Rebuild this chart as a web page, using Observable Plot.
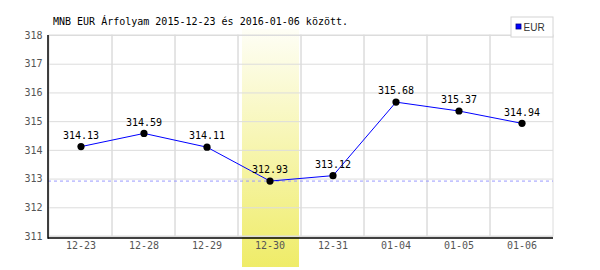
<!DOCTYPE html>
<html>
<head>
<meta charset="utf-8">
<script src="https://cdn.jsdelivr.net/npm/d3@7"></script>
<script src="https://cdn.jsdelivr.net/npm/@observablehq/plot@0.6"></script>
<style>
  html, body { margin: 0; padding: 0; background: #fff; }
  #chart { position: relative; width: 600px; height: 270px; }
</style>
</head>
<body>
<div id="chart"></div>
<script>
const title = "MNB EUR Árfolyam 2015-12-23 és 2016-01-06 között.";
const seriesName = "EUR";
const dates = ["12-23", "12-28", "12-29", "12-30", "12-31", "01-04", "01-05", "01-06"];
const rates = [314.13, 314.59, 314.11, 312.93, 313.12, 315.68, 315.37, 314.94];
const yTicks = [311, 312, 313, 314, 315, 316, 317, 318];
const highlightDate = "12-30";

const data = dates.map((d, i) => ({date: d, rate: rates[i], label: rates[i].toFixed(2)}));
const minRate = d3.min(rates);
const mono = "'DejaVu Sans Mono', monospace";

function decor() {
  const g = d3.create("svg:g");
  const defs = g.append("defs");
  const grad = defs.append("linearGradient").attr("id", "hl").attr("x1", 0).attr("y1", 0).attr("x2", 0).attr("y2", 1);
  grad.append("stop").attr("offset", "0%").attr("stop-color", "#fefef6");
  grad.append("stop").attr("offset", "100%").attr("stop-color", "#efec68");
  return g.node();
}

function frameLines(index, scales, values, dimensions) {
  const {marginLeft, marginRight, width} = dimensions;
  const yb = scales.y(yTicks[0]) + 2;
  const yt = scales.y(yTicks[yTicks.length - 1]);
  const wrap = d3.create("svg:g").attr("text-anchor", "start");
  const g = wrap.append("g").attr("stroke", "#000").attr("stroke-width", 1.5);
  g.append("line").attr("x1", marginLeft).attr("x2", marginLeft).attr("y1", yt).attr("y2", yb + 0.75);
  g.append("line").attr("x1", marginLeft).attr("x2", width - marginRight).attr("y1", yb).attr("y2", yb);
  const t = wrap.append("g").attr("text-anchor", "start");
  t.append("text").attr("x", marginLeft + 5).attr("y", 25).attr("text-anchor", "start")
    .attr("font-family", mono).attr("font-size", 10).attr("fill", "#000")
    .text(title);
  const lx = width - marginRight - 42, ly = 17;
  t.append("rect").attr("x", lx).attr("y", ly).attr("width", 42).attr("height", 20)
    .attr("fill", "#fff").attr("stroke", "#d4d4d4");
  t.append("rect").attr("x", lx + 5).attr("y", ly + 7).attr("width", 5).attr("height", 5)
    .attr("fill", "#0000ff").attr("stroke", "#000080").attr("stroke-width", 0.8);
  t.append("text").attr("x", lx + 12.5).attr("y", ly + 13.5).attr("text-anchor", "start")
    .attr("font-family", "'Liberation Sans', Arial, sans-serif").attr("font-size", 10).attr("fill", "#333")
    .text(seriesName);
  return wrap.node();
}

const chart = Plot.plot({
  width: 600,
  height: 270,
  marginLeft: 48,
  marginRight: 47,
  marginTop: 35,
  marginBottom: 34,
  style: {fontFamily: mono, fontSize: "10px", color: "#555", background: "#fff"},
  x: {type: "band", domain: dates, padding: 0, axis: null},
  y: {domain: [yTicks[0], yTicks[yTicks.length - 1]], ticks: yTicks, tickSize: 0, tickPadding: 6, label: null, tickFormat: d => d},
  marks: [
    decor,
    Plot.barY([highlightDate], {x: d => d, y1: yTicks[yTicks.length - 1] + 0.21, y2: yTicks[0] - 1.08, fill: "url(#hl)", insetLeft: 4, insetRight: 2}),
    Plot.ruleY(yTicks, {stroke: "#dcdcdc", strokeWidth: 1}),
    Plot.barY(dates, {x: d => d, y1: yTicks[0], y2: yTicks[yTicks.length - 1], fill: "none", stroke: "#dcdcdc", strokeWidth: 1}),
    Plot.ruleY([minRate], {stroke: "#9999ff", strokeDasharray: "3,3", strokeWidth: 1}),
    Plot.line(data, {x: "date", y: "rate", stroke: "#0000ff", strokeWidth: 1}),
    Plot.dot(data, {x: "date", y: "rate", r: 3.6, fill: "#000", stroke: "none"}),
    Plot.text(data, {x: "date", y: "rate", text: "label", dy: -11, fill: "#000", fontFamily: mono, fontSize: 10}),
    Plot.text(dates, {x: d => d, frameAnchor: "bottom", dy: 12, text: d => d, fill: "#555", fontFamily: mono, fontSize: 10}),
    frameLines
  ]
});
document.getElementById("chart").appendChild(chart);
</script>
</body>
</html>
